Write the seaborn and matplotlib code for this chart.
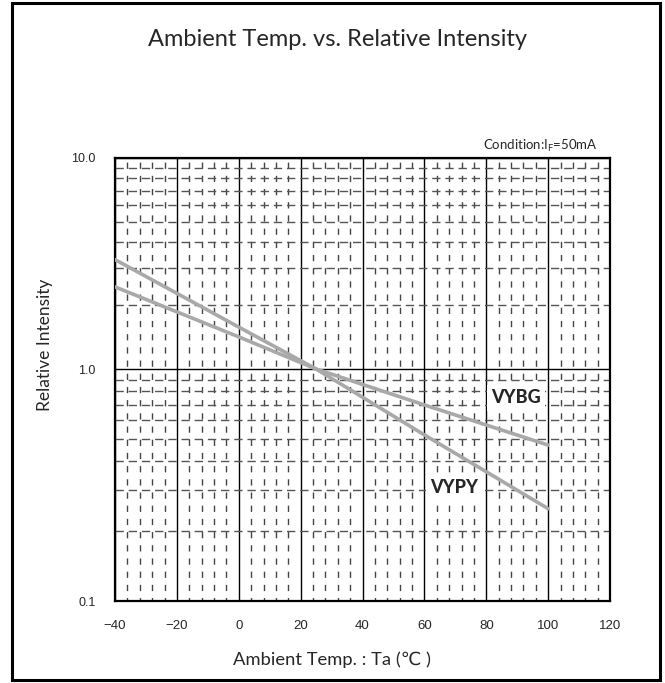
import matplotlib
matplotlib.use("Agg")
import matplotlib.pyplot as plt
import matplotlib.patches as mpatches
from matplotlib.ticker import MultipleLocator, FixedFormatter, FixedLocator, NullFormatter
import seaborn as sns
import pandas as pd
import numpy as np

# Relative luminous intensity vs. ambient temperature (normalised at 25 °C)
temps_vypy = [-40, 0, 25, 60, 100]
intensity_vypy = [3.3, 1.58, 1.0, 0.52, 0.25]

temps_vybg = [-40, 0, 25, 60, 100]
intensity_vybg = [2.45, 1.42, 1.0, 0.70, 0.47]

x_ticks = [-40, -20, 0, 20, 40, 60, 80, 100, 120]
x_tick_labels = ["\u221240", "\u221220", "0", "20", "40", "60", "80", "100", "120"]
y_ticks = [0.1, 1.0, 10.0]
y_tick_labels = ["0.1", "1.0", "10.0"]

df = pd.concat([
    pd.DataFrame({"Ta": temps_vypy, "Intensity": intensity_vypy, "Part": "VYPY"}),
    pd.DataFrame({"Ta": temps_vybg, "Intensity": intensity_vybg, "Part": "VYBG"}),
], ignore_index=True)

sns.set_style("white")
plt.rcParams["font.family"] = ["Lato", "DejaVu Sans"]

fig = plt.figure(figsize=(6.65, 6.83), dpi=100)
ax = fig.add_axes([115 / 665, 1 - 601 / 683, 495 / 665, 443 / 683])


# log axis whose lower decade is drawn a little taller than the upper one
def _fwd(y):
    lg = np.log10(np.maximum(np.asarray(y, dtype=float), 1e-12))
    return np.where(lg < 0, lg * 232 / 211, lg)


def _inv(v):
    v = np.asarray(v, dtype=float)
    return 10 ** np.where(v < 0, v * 211 / 232, v)


ax.set_yscale("function", functions=(_fwd, _inv))
ax.set_xlim(-40, 120)
ax.set_ylim(0.1, 10)

# grid: solid majors, dashed minors
ax.xaxis.set_major_locator(FixedLocator(x_ticks))
ax.xaxis.set_minor_locator(MultipleLocator(4))
ax.yaxis.set_major_locator(FixedLocator(y_ticks))
ax.yaxis.set_major_formatter(FixedFormatter(y_tick_labels))
minor_y = [m * d for d in (0.1, 1.0) for m in range(2, 10)]
ax.yaxis.set_minor_locator(FixedLocator(minor_y))
ax.yaxis.set_minor_formatter(NullFormatter())

ax.grid(which="major", color="black", linewidth=1.0, linestyle="-")
ax.grid(which="minor", axis="x", color="#444444", linewidth=1.0, linestyle=(2, (4.5, 5)))
ax.grid(which="minor", axis="y", color="#555555", linewidth=1.0, linestyle=(0, (6, 3.5)))
ax.set_axisbelow(True)

sns.lineplot(data=df, x="Ta", y="Intensity", hue="Part",
             palette={"VYPY": "#a9a9a9", "VYBG": "#a9a9a9"},
             linewidth=2.6, legend=False, ax=ax, zorder=3)

for s in ax.spines.values():
    s.set_color("black")
    s.set_linewidth(1.6)

ax.tick_params(which="both", length=0)
ax.tick_params(axis="x", pad=14, labelsize=9.5)
ax.tick_params(axis="y", pad=14, labelsize=9)
ax.set_xticklabels(x_tick_labels)
for lab in ax.get_xticklabels() + ax.get_yticklabels():
    lab.set_fontfamily(["Liberation Sans", "DejaVu Sans"])

ax.set_xlabel("Ambient Temp. : Ta (\u2103 )", fontsize=13.2)
ax.xaxis.set_label_coords((332 - 115) / 495, -(660 - 601) / 443)
ax.xaxis.label.set_va("center")
ax.set_ylabel("Relative Intensity", fontsize=12.5)
ax.yaxis.set_label_coords((45 - 115) / 495, (601 - 345) / 443)
ax.yaxis.label.set_va("center")

# series labels
box = dict(facecolor="white", edgecolor="none", pad=3)
ax.text(81.5, 0.75, "VYBG", fontsize=13, fontweight="black", va="center",
        ha="left", bbox=box, zorder=4)
ax.text(62, 0.31, "VYPY", fontsize=13, fontweight="black", va="center",
        ha="left", bbox=box, zorder=4)

fig.text(337 / 665, 1 - 40 / 683, "Ambient Temp. vs. Relative Intensity",
         fontsize=17, ha="center", va="center")
fig.text(598 / 665, 1 - 146 / 683, "Condition:I$_\\mathregular{F}$=50mA",
         fontsize=9.5, ha="right", va="center")

# outer frame
fig.patches.append(mpatches.Rectangle((12 / 665, 3 / 683), 648 / 665, 677 / 683,
                                      transform=fig.transFigure, fill=False,
                                      edgecolor="black", linewidth=2.2))

fig.savefig("out.png", dpi=100)
